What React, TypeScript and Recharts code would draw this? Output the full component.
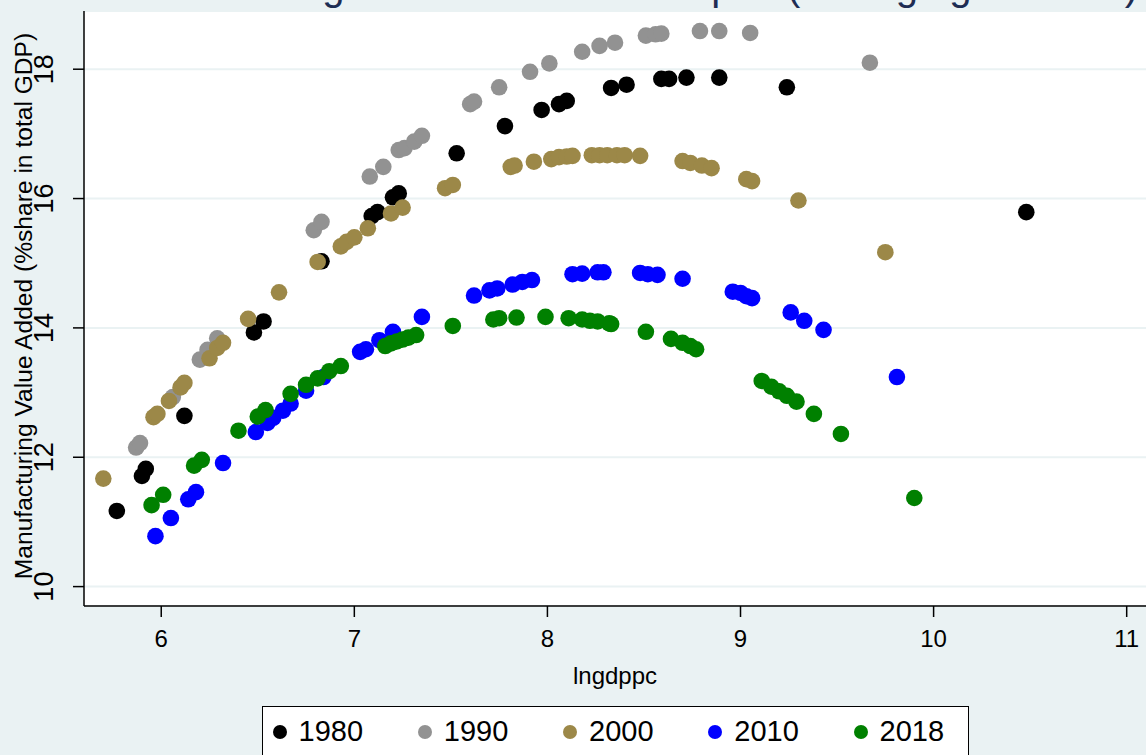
import React from "react";
import { ScatterChart, Scatter, XAxis, YAxis, CartesianGrid, Label } from "recharts";

const years = ["1980", "1990", "2000", "2010", "2018"];
const colors = ["#000000", "#929292", "#9C8848", "#0000FF", "#008000"];
const xTicks = [6, 7, 8, 9, 10, 11];
const yTicks = [10, 12, 14, 16, 18];

// [lngdppc, manufacturing share]
const pts1980 = [
  [5.77, 11.17], [5.9, 11.71], [5.92, 11.82], [6.12, 12.64], [6.48, 13.93], [6.53, 14.1],
  [6.83, 15.03], [7.09, 15.73], [7.12, 15.79], [7.2, 16.02], [7.23, 16.08], [7.53, 16.7],
  [7.78, 17.12], [7.97, 17.37], [8.06, 17.46], [8.1, 17.51], [8.33, 17.71], [8.41, 17.76],
  [8.59, 17.85], [8.63, 17.85], [8.72, 17.87], [8.89, 17.87], [9.24, 17.72], [10.48, 15.79],
];
const pts1990 = [
  [5.87, 12.15], [5.89, 12.22], [6.06, 12.93], [6.2, 13.51], [6.24, 13.66], [6.29, 13.84],
  [6.79, 15.51], [6.83, 15.64], [7.08, 16.34], [7.15, 16.49], [7.23, 16.75], [7.26, 16.78],
  [7.31, 16.88], [7.35, 16.97], [7.6, 17.46], [7.62, 17.5], [7.75, 17.72], [7.91, 17.96],
  [8.01, 18.09], [8.18, 18.27], [8.27, 18.36], [8.35, 18.41], [8.51, 18.52], [8.56, 18.54],
  [8.59, 18.55], [8.79, 18.59], [8.89, 18.59], [9.05, 18.56], [9.67, 18.1],
];
const pts2000 = [
  [5.7, 11.67], [5.96, 12.62], [5.98, 12.67], [6.04, 12.87], [6.1, 13.08], [6.12, 13.15],
  [6.25, 13.53], [6.29, 13.69], [6.32, 13.77], [6.45, 14.14], [6.61, 14.55], [6.81, 15.02],
  [6.93, 15.26], [6.96, 15.33], [7.0, 15.4], [7.07, 15.54], [7.19, 15.77], [7.25, 15.86],
  [7.47, 16.16], [7.51, 16.21], [7.81, 16.49], [7.83, 16.51], [7.93, 16.57], [8.02, 16.61],
  [8.06, 16.64], [8.1, 16.65], [8.13, 16.66], [8.23, 16.67], [8.27, 16.67], [8.31, 16.67],
  [8.36, 16.67], [8.4, 16.67], [8.48, 16.66], [8.7, 16.58], [8.74, 16.55], [8.8, 16.51],
  [8.85, 16.47], [9.03, 16.3], [9.06, 16.27], [9.3, 15.97], [9.75, 15.17],
];
const pts2010 = [
  [5.97, 10.78], [6.05, 11.06], [6.14, 11.35], [6.18, 11.46], [6.32, 11.91], [6.49, 12.39],
  [6.55, 12.53], [6.58, 12.61], [6.63, 12.72], [6.67, 12.83], [6.75, 13.03], [6.84, 13.24],
  [7.03, 13.63], [7.06, 13.67], [7.13, 13.81], [7.2, 13.94], [7.35, 14.17], [7.62, 14.5],
  [7.7, 14.58], [7.74, 14.61], [7.82, 14.67], [7.87, 14.71], [7.92, 14.74], [8.13, 14.83],
  [8.18, 14.84], [8.26, 14.86], [8.29, 14.86], [8.48, 14.85], [8.52, 14.83], [8.57, 14.82],
  [8.7, 14.76], [8.96, 14.56], [9.0, 14.54], [9.03, 14.49], [9.06, 14.46], [9.26, 14.24],
  [9.33, 14.11], [9.43, 13.97], [9.81, 13.24],
];
const pts2018 = [
  [5.95, 11.26], [6.01, 11.42], [6.17, 11.87], [6.21, 11.96], [6.4, 12.41], [6.5, 12.63],
  [6.54, 12.73], [6.67, 12.98], [6.75, 13.12], [6.81, 13.22], [6.87, 13.33], [6.93, 13.41],
  [7.16, 13.72], [7.19, 13.76], [7.22, 13.79], [7.25, 13.82], [7.28, 13.85], [7.32, 13.89],
  [7.51, 14.03], [7.72, 14.13], [7.75, 14.15], [7.84, 14.16], [7.99, 14.17], [8.11, 14.15],
  [8.18, 14.13], [8.22, 14.11], [8.26, 14.1], [8.32, 14.07], [8.33, 14.06], [8.51, 13.94],
  [8.64, 13.83], [8.7, 13.77], [8.74, 13.72], [8.77, 13.67], [9.11, 13.18], [9.16, 13.09],
  [9.2, 13.02], [9.24, 12.95], [9.29, 12.86], [9.38, 12.67], [9.52, 12.36], [9.9, 11.37],
];
const seriesPts = [pts1980, pts1990, pts2000, pts2010, pts2018];

const FONT = '"Liberation Sans", Arial, Helvetica, sans-serif';
const BG = "#EAF2F3";

function YTick({ x, y, payload }: any) {
  return (
    <text x={x} y={y} transform={`rotate(-90 ${x} ${y})`} textAnchor="middle"
      fontSize={27} fontFamily={FONT} fill="#000">
      {payload.value}
    </text>
  );
}

function XTick({ x, y, payload }: any) {
  return (
    <text x={x} y={y + 28} textAnchor="middle" fontSize={24} fontFamily={FONT} fill="#000">
      {payload.value}
    </text>
  );
}

const dot = (color: string) => (props: any) =>
  <circle cx={props.cx} cy={props.cy} r={8.3} fill={color} />;

export default function App() {
  return (
    <div style={{ position: "absolute", left: 0, top: 0, width: 1146, height: 755, background: BG, overflow: "hidden" }}>
      {/* Title sits above the frame, only descenders show */}
      <svg width={1146} height={20} style={{ position: "absolute", left: 0, top: 0 }}>
        <text x={91} y={0} fontSize={40} fontFamily={FONT} fill="#1E2D53">
          Manufacturing Shares and GDP/capita (Emerging Markets)
        </text>
      </svg>

      <ScatterChart width={1146} height={755} margin={{ top: 11, right: 0, bottom: 0, left: 0 }}
        style={{ position: "absolute", left: 0, top: 0 }}>
        <CartesianGrid vertical={false} stroke={BG} strokeWidth={2} fill="#FFFFFF" />
        <XAxis type="number" dataKey="x" domain={[5.6, 11.1]} ticks={xTicks} allowDataOverflow
          interval={0} height={149} tickSize={11} tick={<XTick />}
          axisLine={{ stroke: "#000", strokeWidth: 1.5 }} tickLine={{ stroke: "#000", strokeWidth: 1.5 }}>
          <Label content={() => (
            <text x={615} y={684} textAnchor="middle" fontSize={24} fontFamily={FONT} fill="#000">lngdppc</text>
          )} />
        </XAxis>
        <YAxis type="number" dataKey="y" domain={[9.7, 18.9]} ticks={yTicks} allowDataOverflow
          interval={0} width={84} tickSize={11} tickMargin={20} tick={<YTick />}
          axisLine={{ stroke: "#000", strokeWidth: 1.5 }} tickLine={{ stroke: "#000", strokeWidth: 1.5 }}>
          <Label content={() => (
            <text x={32} y={306} transform="rotate(-90 32 306)" textAnchor="middle" fontSize={24.6}
              fontFamily={FONT} fill="#000">
              Manufacturing Value Added (%share in total GDP)
            </text>
          )} />
        </YAxis>
        {seriesPts.map((pts, i) => (
          <Scatter key={years[i]} name={years[i]} data={pts.map(([x, y]) => ({ x, y }))}
            fill={colors[i]} shape={dot(colors[i])} isAnimationActive={false} />
        ))}
      </ScatterChart>

      {/* Legend */}
      <div style={{ position: "absolute", left: 262, top: 706, width: 707, height: 52, boxSizing: "border-box",
        border: "1.5px solid #000", background: "#fff" }}>
        {years.map((yr, i) => (
          <div key={yr} style={{ position: "absolute", left: 9.5 + 145.25 * i, top: 0, height: 49,
            display: "flex", alignItems: "center", whiteSpace: "nowrap" }}>
            <span style={{ width: 14, height: 14, borderRadius: "50%", background: colors[i], marginRight: 12 }} />
            <span style={{ fontFamily: FONT, fontSize: 29, color: "#000" }}>{yr}</span>
          </div>
        ))}
      </div>
    </div>
  );
}
